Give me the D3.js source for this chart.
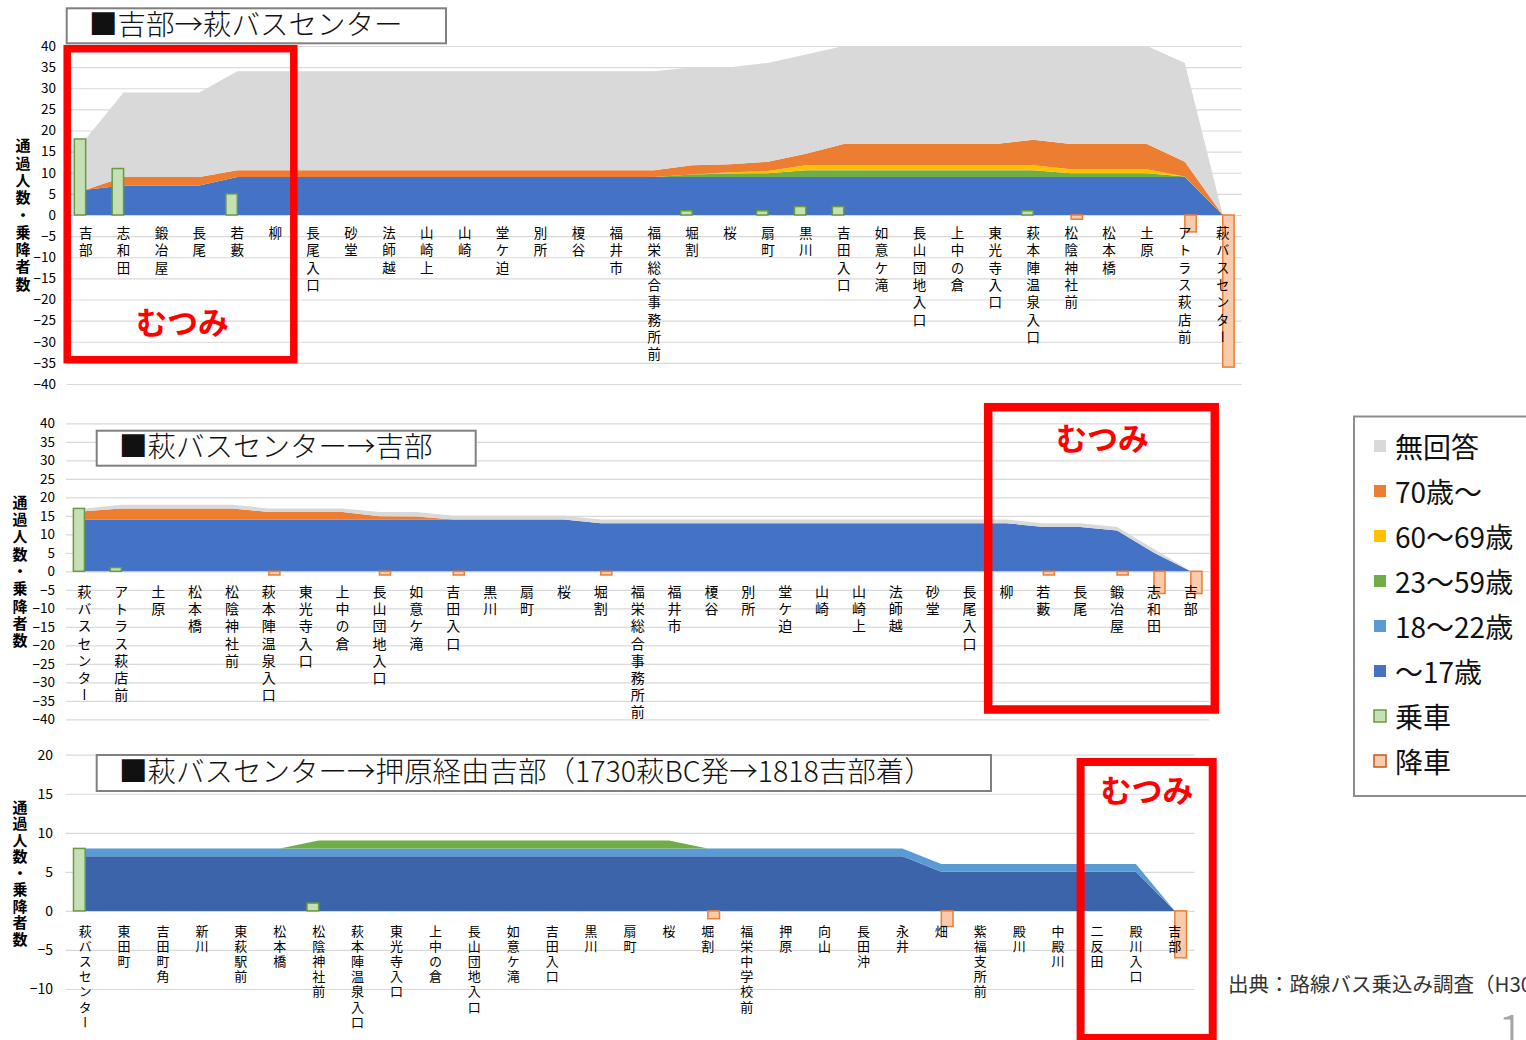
<!DOCTYPE html>
<html><head><meta charset="utf-8">
<script src="https://cdn.jsdelivr.net/npm/d3@7"></script>
<style>
body{margin:0;background:#fff;overflow:hidden;}
svg{display:block;font-family:"Noto Sans CJK JP","Noto Sans",sans-serif;}
</style></head><body>
<svg id="chart" width="1526" height="1040"></svg>
<script>
// ---------------- DATA ----------------
const titles = ["■吉部→萩バスセンター", "■萩バスセンター→吉部", "■萩バスセンター→押原経由吉部（1730萩BC発→1818吉部着）"];
const legendLabels = ["無回答","70歳～","60～69歳","23～59歳","18～22歳","～17歳","乗車","降車"];
const yTitle = "通過人数・乗降者数";

// Chart 1: 吉部→萩バスセンター
const stops1 = ["吉部","志和田","鍛冶屋","長尾","若藪","柳","長尾入口","砂堂","法師越","山崎上","山崎","堂ケ迫","別所","榎谷","福井市","福栄総合事務所前","堀割","桜","扇町","黒川","吉田入口","如意ケ滝","長山団地入口","上中の倉","東光寺入口","萩本陣温泉入口","松陰神社前","松本橋","土原","アトラス萩店前","萩バスセンター"];
const ticks1 = [40,35,30,25,20,15,10,5,0,-5,-10,-15,-20,-25,-30,-35,-40];
const board1  = [18,11,0,0,5,0,0,0,0,0,0,0,0,0,0,0,1,0,1,2,2,0,0,0,0,1,0,0,0,0,0];
const alight1 = [0,0,0,0,0,0,0,0,0,0,0,0,0,0,0,0,0,0,0,0,0,0,0,0,0,0,-1,0,0,-4,-36];
const u17_1   = [6,7,7,7,9,9,9,9,9,9,9,9,9,9,9,9,9,9,9,9,9,9,9,9,9,9,9,9,9,9,0];
const a18_1   = [0,0,0,0,0,0,0,0,0,0,0,0,0,0,0,0,0,0,0,0,0,0,0,0,0,0,0,0,0,0,0];
const a23_1   = [0,0,0,0,0,0,0,0,0,0,0,0,0,0,0,0,0.6,0.8,0.9,1.6,1.6,1.6,1.6,1.6,1.6,1.6,0.9,0.9,0.9,0.1,0];
const a60_1   = [0,0,0,0,0,0,0,0,0,0,0,0,0,0,0,0,0,0.3,0.5,1.2,1.2,1.2,1.2,1.2,1.2,1.2,0.9,0.9,0.9,0,0];
const a70_1   = [0,2,2,2,1.6,1.6,1.6,1.6,1.6,1.6,1.6,1.6,1.6,1.6,1.6,1.6,2.2,1.9,2.2,2.7,5,5,5,5,5,6,6,6,6,3.5,0];
const na_1    = [12,20,20,20,23.4,23.4,23.4,23.4,23.4,23.4,23.4,23.4,23.4,23.4,23.4,23.4,23.2,23,23.4,23.5,23.2,23.2,23.2,23.2,23.2,23.2,23.2,23.2,23.2,23.4,0];

// Chart 2: 萩バスセンター→吉部
const stops2 = ["萩バスセンター","アトラス萩店前","土原","松本橋","松陰神社前","萩本陣温泉入口","東光寺入口","上中の倉","長山団地入口","如意ケ滝","吉田入口","黒川","扇町","桜","堀割","福栄総合事務所前","福井市","榎谷","別所","堂ケ迫","山崎","山崎上","法師越","砂堂","長尾入口","柳","若藪","長尾","鍛冶屋","志和田","吉部"];
const ticks2 = [40,35,30,25,20,15,10,5,0,-5,-10,-15,-20,-25,-30,-35,-40];
const board2  = [17,1,0,0,0,0,0,0,0,0,0,0,0,0,0,0,0,0,0,0,0,0,0,0,0,0,0,0,0,0,0];
const alight2 = [0,0,0,0,0,-1,0,0,-1,0,-1,0,0,0,-1,0,0,0,0,0,0,0,0,0,0,0,-1,0,-1,-6,-6];
const u17_2   = [14,14,14,14,14,14,14,14,14,14,14,14,14,14,13,13,13,13,13,13,13,13,13,13,13,13,12,12,11,5,0];
const a18_2   = [0,0,0,0,0,0,0,0,0,0,0,0,0,0,0,0,0,0,0,0,0,0,0,0,0,0,0,0,0,0,0];
const a23_2   = [0,0,0,0,0,0,0,0,0,0,0,0,0,0,0,0,0,0,0,0,0,0,0,0,0,0,0,0,0,0,0];
const a60_2   = [0,0,0,0,0,0,0,0,0,0,0,0,0,0,0,0,0,0,0,0,0,0,0,0,0,0,0,0,0,0,0];
const a70_2   = [2.2,3,3,3,3,2,2,2,0.9,0.8,0,0,0,0,0,0,0,0,0,0,0,0,0,0,0,0,0,0,0,0,0];
const na_2    = [0.8,1,1,1,1,1,1,1,1.1,1.2,1,1,1,1,1,1,1,1,1,1,1,1,1,1,1,1,1,1,1,1,0];

// Chart 3: 萩バスセンター→押原経由吉部
const stops3 = ["萩バスセンター","東田町","吉田町角","新川","東萩駅前","松本橋","松陰神社前","萩本陣温泉入口","東光寺入口","上中の倉","長山団地入口","如意ケ滝","吉田入口","黒川","扇町","桜","堀割","福栄中学校前","押原","向山","長田沖","永井","畑","紫福支所前","殿川","中殿川","二反田","殿川入口","吉部"];
const ticks3 = [20,15,10,5,0,-5,-10];
const board3  = [8,0,0,0,0,0,1,0,0,0,0,0,0,0,0,0,0,0,0,0,0,0,0,0,0,0,0,0,0];
const alight3 = [0,0,0,0,0,0,0,0,0,0,0,0,0,0,0,0,-1,0,0,0,0,0,-2,0,0,0,0,0,-6];
const u17_3   = [7,7,7,7,7,7,7,7,7,7,7,7,7,7,7,7,7,7,7,7,7,7,5,5,5,5,5,5,0];
const a18_3   = [1,1,1,1,1,1,1,1,1,1,1,1,1,1,1,1,1,1,1,1,1,1,1,1,1,1,1,1,0];
const a23_3   = [0,0,0,0,0,0,1,1,1,1,1,1,1,1,1,1,0,0,0,0,0,0,0,0,0,0,0,0,0];
const a60_3   = [0,0,0,0,0,0,0,0,0,0,0,0,0,0,0,0,0,0,0,0,0,0,0,0,0,0,0,0,0];
const a70_3   = [0,0,0,0,0,0,0,0,0,0,0,0,0,0,0,0,0,0,0,0,0,0,0,0,0,0,0,0,0];
const na_3    = [0,0,0,0,0,0,0,0,0,0,0,0,0,0,0,0,0,0,0,0,0,0,0,0,0,0,0,0,0];

// ---------------- STYLE / LAYOUT ----------------
const layerKeys = ["u17","a18","a23","a60","a70","na"];
const layerColors = ["#4472C4","#5B9BD5","#70AD47","#FFC000","#ED7D31","#D9D9D9"];
const boardFill = "#C5E0B4", boardStroke = "#6A9B43";
const alightFill = "#F8CBAD", alightStroke = "#ED7D31";
const FONT = '"Noto Sans CJK JP","Noto Sans",sans-serif';

const svg = d3.select("#chart");

const charts = [
  { stops: stops1, layers: [u17_1,a18_1,a23_1,a60_1,a70_1,na_1], board: board1, alight: alight1, ticks: ticks1,
    x0: 66.7, x1: 1241.7, yTop: 46, yBot: 384, yMin: -40, yMax: 40, blue: "#4472C4",
    tickRight: 56, tickFont: 13.5, labelTop: 226.3, labelFont: 13.5, labelLS: 3.8,
    yTitleX: 23, yTitleCY: 216, yTitleLS: 2.3, yTitleFont: 15,
    title: titles[0], box: [66.7, 8.3, 379.3, 35], titleX: 89, titleBase: 35, titleFont: 28.5 },
  { stops: stops2, layers: [u17_2,a18_2,a23_2,a60_2,a70_2,na_2], board: board2, alight: alight2, ticks: ticks2,
    x0: 66, x1: 1209.3, yTop: 423.3, yBot: 719.3, yMin: -40, yMax: 40, blue: "#4472C4",
    tickRight: 55, tickFont: 13.5, labelTop: 584.7, labelFont: 14, labelLS: 3.2,
    yTitleX: 20, yTitleCY: 572.5, yTitleLS: 2.3, yTitleFont: 15,
    title: titles[1], box: [96.7, 430.7, 379, 35], titleX: 119, titleBase: 457, titleFont: 28.5 },
  { stops: stops3, layers: [u17_3,a18_3,a23_3,a60_3,a70_3,na_3], board: board3, alight: alight3, ticks: ticks3,
    x0: 65.7, x1: 1194.3, yTop: 754.7, yBot: 989, yMin: -10, yMax: 20, blue: "#3B64AA",
    tickRight: 53, tickFont: 14, labelTop: 924.2, labelFont: 13, labelLS: 2.2,
    yTitleX: 20, yTitleCY: 874, yTitleLS: 1.5, yTitleFont: 15,
    title: titles[2], box: [96.7, 755, 894.3, 36], titleX: 119, titleBase: 782, titleFont: 28.5 }
];

charts.forEach((cfg, ci) => {
  const g = svg.append("g");
  const x = d3.scaleBand().domain(cfg.stops).range([cfg.x0, cfg.x1]);
  const cx = s => x(s) + x.bandwidth() / 2;
  const y = d3.scaleLinear().domain([cfg.yMin, cfg.yMax]).range([cfg.yBot, cfg.yTop]);

  // gridlines
  g.append("g").attr("transform", `translate(${cfg.x0},0)`)
    .call(d3.axisLeft(y).tickValues(cfg.ticks).tickSize(-(cfg.x1 - cfg.x0)).tickFormat(""))
    .call(a => a.select(".domain").remove())
    .call(a => a.selectAll("line").attr("stroke", "#D9D9D9").attr("stroke-width", 1.2));

  // y tick labels
  g.append("g").attr("transform", `translate(${cfg.tickRight},0)`)
    .call(d3.axisLeft(y).tickValues(cfg.ticks).tickSize(0).tickPadding(0)
      .tickFormat(d => d < 0 ? "−" + (-d) : String(d)))
    .call(a => a.select(".domain").remove())
    .attr("font-family", FONT).attr("font-size", cfg.tickFont)
    .call(a => a.selectAll("text").attr("fill", "#000"));

  // stacked areas
  const rows = cfg.stops.map((s, i) => {
    const r = { stop: s };
    layerKeys.forEach((k, li) => r[k] = cfg.layers[li][i]);
    return r;
  });
  const series = d3.stack().keys(layerKeys)(rows);
  const area = d3.area().x(d => cx(d.data.stop)).y0(d => y(d[0])).y1(d => y(d[1]));
  const clipId = "clip" + ci;
  g.append("clipPath").attr("id", clipId).append("rect")
    .attr("x", cfg.x0).attr("y", cfg.yTop).attr("width", cfg.x1 - cfg.x0).attr("height", cfg.yBot - cfg.yTop);
  const ga = g.append("g").attr("clip-path", `url(#${clipId})`);
  ga.selectAll("path.layer").data(series).join("path").attr("class", "layer")
    .attr("d", area)
    .attr("fill", (d, i) => i === 0 ? cfg.blue : layerColors[i]);

  // bars
  const w = x.bandwidth() * 0.3;
  const sub = d3.scaleBand().domain(["board", "alight"]).range([-w, w]);
  const bars = [];
  cfg.stops.forEach((s, i) => {
    if (cfg.board[i]) bars.push({ s, v: cfg.board[i], k: "board" });
    if (cfg.alight[i]) bars.push({ s, v: cfg.alight[i], k: "alight" });
  });
  g.append("g").selectAll("rect").data(bars).join("rect")
    .attr("x", d => cx(d.s) + sub(d.k))
    .attr("width", sub.bandwidth())
    .attr("y", d => y(Math.max(0, d.v)))
    .attr("height", d => Math.abs(y(d.v) - y(0)))
    .attr("fill", d => d.k === "board" ? boardFill : alightFill)
    .attr("stroke", d => d.k === "board" ? boardStroke : alightStroke)
    .attr("stroke-width", 1.5);

  // category labels (vertical)
  g.append("g").attr("transform", `translate(0,${cfg.labelTop})`)
    .call(d3.axisBottom(x).tickSize(0).tickPadding(0))
    .call(a => a.select(".domain").remove())
    .attr("font-family", FONT).attr("font-size", cfg.labelFont)
    .call(a => a.selectAll("text")
      .attr("y", 0).attr("dy", null).attr("fill", "#000")
      .attr("text-anchor", "start")
      .attr("letter-spacing", cfg.labelLS)
      .style("writing-mode", "vertical-rl")
      .style("text-orientation", "upright"));

  // y axis title
  g.append("text")
    .attr("x", cfg.yTitleX).attr("y", cfg.yTitleCY)
    .attr("text-anchor", "middle")
    .attr("font-family", FONT).attr("font-size", cfg.yTitleFont).attr("font-weight", 700)
    .attr("letter-spacing", cfg.yTitleLS)
    .style("writing-mode", "vertical-rl").style("text-orientation", "upright")
    .text(yTitle);

  // title box
  g.append("rect").attr("x", cfg.box[0]).attr("y", cfg.box[1]).attr("width", cfg.box[2]).attr("height", cfg.box[3])
    .attr("fill", "#fff").attr("stroke", "#808080").attr("stroke-width", 2);
  g.append("text").attr("x", cfg.titleX).attr("y", cfg.titleBase)
    .attr("font-family", FONT).attr("font-size", cfg.titleFont).attr("font-weight", 300)
    .attr("fill", "#111").text(cfg.title);
});

// red annotation boxes "むつみ"
const notes = [
  { r: [67.2, 48.7, 226.6, 311], sw: 7.5, t: [182.5, 334] },
  { r: [988.2, 407.2, 226.6, 302.3], sw: 8.5, t: [1102.5, 450] },
  { r: [1080.6, 762, 132.1, 276], sw: 8, t: [1147, 802] }
];
notes.forEach(n => {
  svg.append("rect").attr("x", n.r[0]).attr("y", n.r[1]).attr("width", n.r[2]).attr("height", n.r[3])
    .attr("fill", "none").attr("stroke", "#FF0000").attr("stroke-width", n.sw);
  svg.append("text").attr("x", n.t[0]).attr("y", n.t[1]).attr("text-anchor", "middle")
    .attr("font-family", FONT).attr("font-size", 31).attr("font-weight", 700)
    .attr("fill", "#FF0000").text("むつみ");
});

// legend
const legendColors = ["#D9D9D9","#ED7D31","#FFC000","#70AD47","#5B9BD5","#4472C4",boardFill,alightFill];
const legendStrokes = [null,null,null,null,null,null,boardStroke,"#C55A11"];
const lg = svg.append("g");
lg.append("rect").attr("x", 1354).attr("y", 416.5).attr("width", 200).attr("height", 379.5)
  .attr("fill", "#fff").attr("stroke", "#8C8C8C").attr("stroke-width", 2);
const ly = d3.scalePoint().domain(legendLabels).range([446, 761]);
legendLabels.forEach((lab, i) => {
  const cy = ly(lab);
  lg.append("rect").attr("x", 1374).attr("y", cy - 6).attr("width", 12).attr("height", 12)
    .attr("fill", legendColors[i])
    .attr("stroke", legendStrokes[i] || "none").attr("stroke-width", legendStrokes[i] ? 1.5 : 0);
  lg.append("text").attr("x", 1395).attr("y", cy + 11.5)
    .attr("font-family", FONT).attr("font-size", 28).attr("fill", "#111").text(lab);
});

// source + page number
svg.append("text").attr("x", 1228).attr("y", 992)
  .attr("font-family", FONT).attr("font-size", 20.5).attr("fill", "#333")
  .text("出典：路線バス乗込み調査（H30）");
svg.append("text").attr("x", 1497).attr("y", 1052)
  .attr("font-family", FONT).attr("font-size", 52).attr("font-weight", 300).attr("fill", "#A6A6A6")
  .text("1");
</script>
</body></html>
